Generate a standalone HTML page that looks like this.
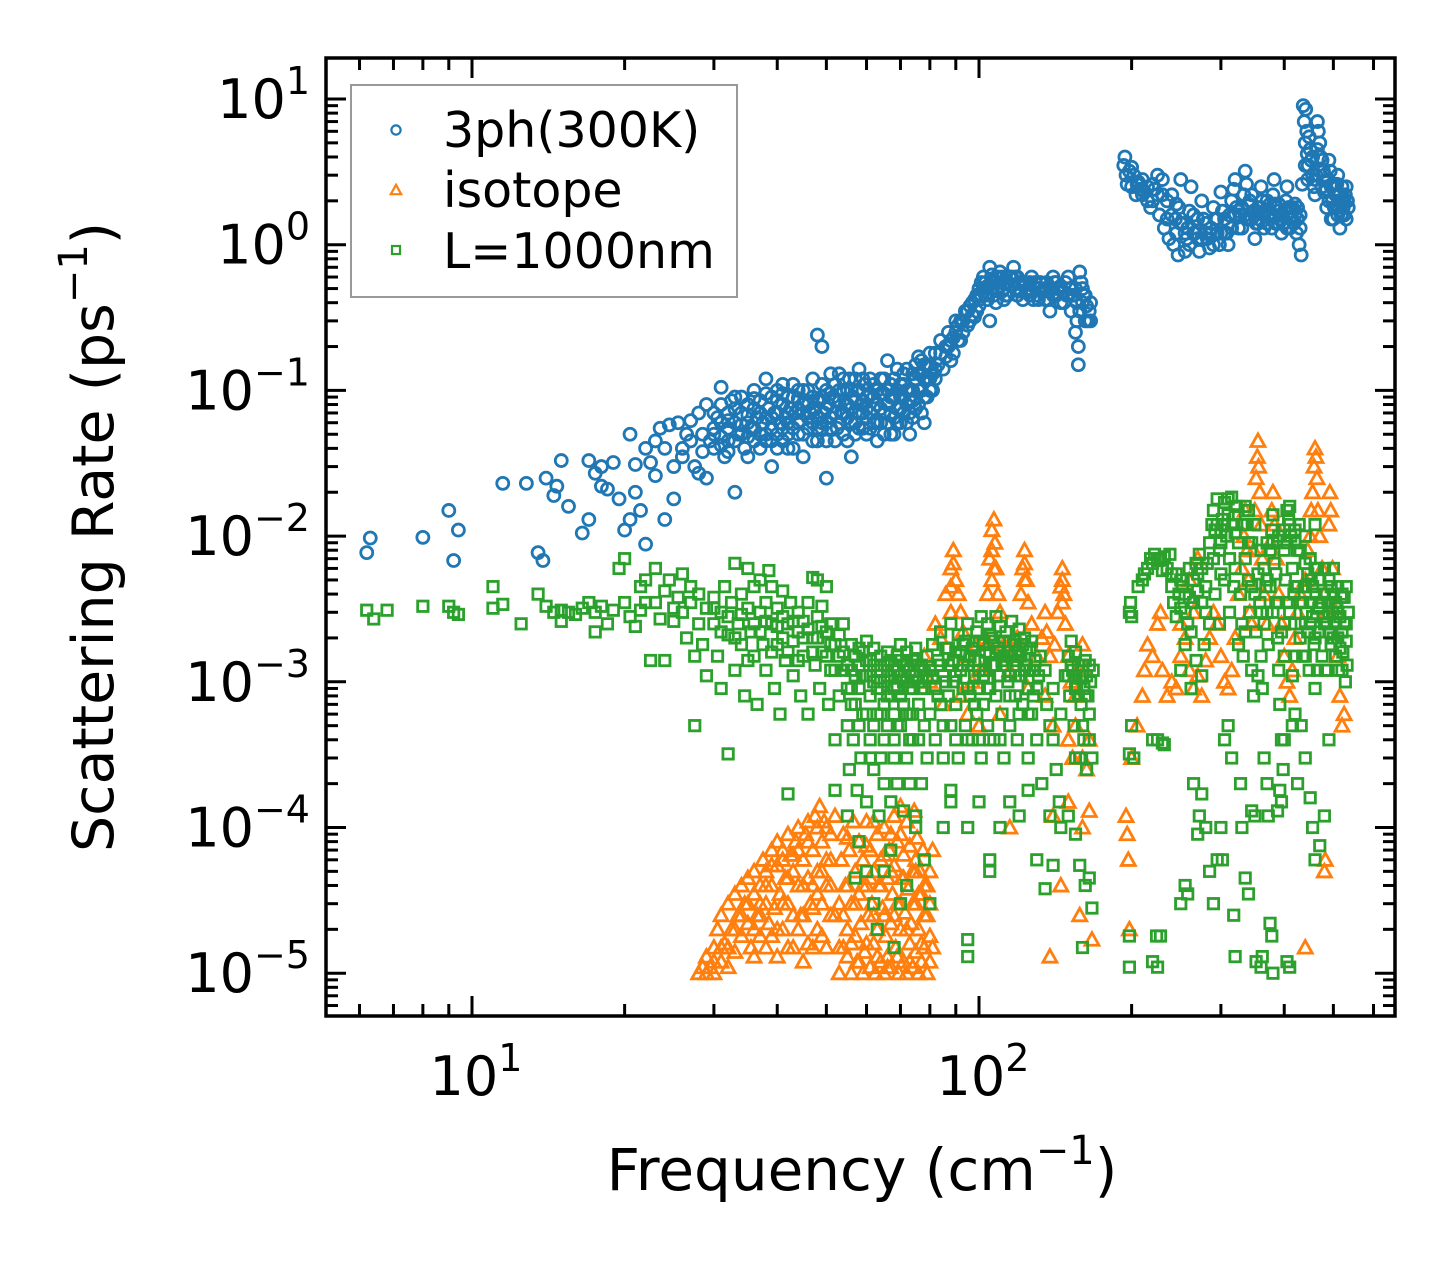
<!DOCTYPE html>
<html><head><meta charset="utf-8"><style>
html,body{margin:0;padding:0;background:#fff;}
svg{display:block;font-family:"DejaVu Sans","Liberation Sans",sans-serif;}
</style></head><body>
<svg id="chart" width="1455" height="1265" viewBox="0 0 1455 1265" xmlns="http://www.w3.org/2000/svg">
<rect width="1455" height="1265" fill="#fff"/>
<g id="marks"></g>
<g id="axes"></g>
</svg>
<script>
// ---- data (frequency cm^-1, rate ps^-1) ----
const xTickValues = [10, 100];
const xTickLabels = ["10", "10"];
const xTickExps = ["1", "2"];
const yTickValues = [10, 1, 0.1, 0.01, 0.001, 0.0001, 0.00001];
const yTickExps = ["1", "0", "\u22121", "\u22122", "\u22123", "\u22124", "\u22125"];
const legendLabels = ["3ph(300K)", "isotope", "L=1000nm"];

const blueData = [
[6.2,0.0077],[6.3,0.0097],[8,0.0098],[9,0.015],[9.2,0.0068],[9.4,0.011],[11.5,0.023],[12.8,0.023],[13.5,0.0077],[13.8,0.0068],[14,0.025],[14.5,0.019],[14.7,0.022],[15,0.033],[15.5,0.016],[16.5,0.0105],[17,0.013],[17,0.033],[17.5,0.027],[18,0.022],[18,0.03],[18.5,0.021],[19,0.032],[19.5,0.018],[20,0.011],[20.5,0.013],[20.5,0.05],[21,0.031],[21,0.02],[21.5,0.015],[22,0.0088],[22,0.04],[22.5,0.032],[23,0.045],[23,0.026],[23.5,0.055],[24,0.04],[24,0.013],[24.5,0.058],[25,0.03],[25,0.018],[25.5,0.06],[26,0.04],[26,0.035],[26.5,0.05],[27,0.062],[27,0.045],[27.5,0.03],[28,0.027],[28,0.07],[28.5,0.05],[28.5,0.038],[29,0.08],[29,0.025],[29.5,0.045],[30,0.055],[30,0.04],[30.5,0.065],[31,0.06],[31,0.105],[31,0.048],[31.5,0.035],[32,0.07],[32,0.045],[32,0.055],[32.5,0.085],[33,0.02],[33,0.09],[33,0.06],[33.5,0.05],[34,0.05],[34,0.07],[34.5,0.04],[35,0.06],[35,0.035],[35,0.08],[35.5,0.055],[36,0.075],[36,0.1],[36,0.045],[36.5,0.065],[37,0.05],[37,0.085],[37.5,0.06],[38,0.12],[38,0.065],[38,0.045],[38.5,0.075],[39,0.03],[39,0.09],[39,0.055],[39.5,0.07],[40,0.07],[40,0.05],[40,0.1],[40.5,0.06],[41,0.11],[41,0.08],[41,0.045],[41.5,0.065],[42,0.06],[42,0.04],[42,0.09],[42.5,0.075],[43,0.09],[43,0.055],[43.5,0.07],[44,0.075],[44,0.05],[44,0.1],[44.5,0.062],[45,0.1],[45,0.035],[45,0.07],[45.5,0.085],[46,0.08],[46,0.055],[46.5,0.07],[47,0.06],[47,0.12],[47,0.09],[47.5,0.075],[48,0.24],[48,0.045],[48,0.065],[48.5,0.085],[49,0.09],[49,0.055],[49,0.2],[49.5,0.07],[50,0.06],[50,0.025],[50,0.1],[50.5,0.08],[51,0.13],[51,0.065],[51.5,0.09],[52,0.07],[52,0.11],[52.5,0.055],[53,0.085],[53,0.13],[53.5,0.07],[54,0.05],[54,0.1],[54.5,0.08],[55,0.1],[55,0.065],[55.5,0.12],[56,0.035],[56,0.075],[56.5,0.09],[57,0.12],[57,0.06],[57.5,0.1],[58,0.07],[58,0.14],[58.5,0.08],[59,0.085],[59,0.055],[59.5,0.11],[60,0.05],[60,0.09],[61,0.07],[61,0.12],[62,0.09],[62,0.06],[63,0.06],[63,0.1],[64,0.12],[64,0.075],[65,0.07],[65,0.095],[66,0.16],[66,0.08],[67,0.05],[67,0.11],[68,0.09],[68,0.065],[69,0.06],[69,0.1],[70,0.11],[70,0.075],[71,0.09],[71,0.13],[72,0.08],[72,0.06],[73,0.05],[73,0.1],[74,0.13],[74,0.085],[75,0.09],[75,0.15],[76,0.17],[76,0.1],[77,0.1],[77,0.13],[78,0.06],[78,0.15],[79,0.12],[80,0.15],[80,0.1],[81,0.13],[82,0.12],[82,0.18],[83,0.15],[84,0.18],[84,0.22],[85,0.14],[86,0.2],[87,0.2],[87,0.25],[88,0.16],[89,0.23],[90,0.25],[90,0.3],[91,0.28],[92,0.22],[93,0.3],[94,0.35],[95,0.28],[96,0.38],[97,0.4],[98,0.32],[99,0.45],[100,0.5],[100,0.38],[101,0.55],[102,0.6],[103,0.45],[104,0.52],[105,0.7],[105,0.3],[106,0.62],[107,0.55],[108,0.4],[109,0.6],[110,0.65],[111,0.48],[112,0.5],[113,0.45],[114,0.55],[115,0.6],[116,0.52],[117,0.7],[118,0.5],[119,0.6],[120,0.55],[121,0.48],[122,0.42],[123,0.55],[125,0.5],[126,0.45],[127,0.6],[128,0.52],[130,0.45],[131,0.5],[132,0.55],[134,0.48],[135,0.5],[137,0.42],[138,0.35],[139,0.5],[140,0.6],[141,0.55],[142,0.45],[144,0.5],[145,0.4],[146,0.48],[148,0.55],[149,0.45],[150,0.6],[151,0.5],[152,0.35],[153,0.45],[155,0.25],[155,0.5],[156,0.3],[157,0.15],[157,0.2],[158,0.65],[159,0.55],[160,0.4],[161,0.45],[162,0.3],[163,0.38],[165,0.35],[166,0.4],
[193,3.5],[194,4],[195,3],[196,2.6],[198,3.2],[200,2.5],[202,3],[204,2.2],[206,2.7],[208,2.4],[210,2.8],[212,2.3],[215,2.5],[218,1.8],[220,2],[222,2.4],[225,3],[227,1.6],[230,2.8],[232,1.3],[235,1.5],[237,1.1],[240,2.2],[242,1.0],[244,1.5],[245,1.2],[247,0.85],[248,1.8],[250,2.8],[252,1.4],[255,0.9],[257,1.1],[258,1.3],[260,1.7],[262,2.5],[265,1.6],[267,1.2],[270,1.1],[272,0.9],[275,2.0],[277,1.5],[280,1.4],[282,1.1],[285,0.95],[287,1.3],[290,1.8],[292,1.5],[295,1.2],[298,1.0],[300,2.3],[302,1.7],[305,1.5],[308,1.2],[310,1.0],[312,1.6],[315,2.0],[318,2.4],[320,2.8],[322,1.8],[325,1.3],[327,1.6],[330,1.8],[333,2.2],[335,3.2],[337,2.6],[340,1.5],[342,2.0],[345,2.2],[348,1.7],[350,1.1],[352,1.4],[355,1.8],[357,1.5],[360,2.5],[362,2.0],[365,1.3],[368,1.7],[370,2.0],[372,1.6],[375,1.6],[378,1.3],[380,2.2],[382,2.8],[384,1.9],[385,1.4],[388,1.7],[390,1.9],[392,1.5],[395,1.2],[398,1.4],[400,1.7],[403,2.0],[405,2.5],[408,1.8],[410,1.3],[412,1.5],[415,1.8],[418,1.4],[420,1.6],[423,1.2],[425,1.5],[428,1.0],[430,1.3],[432,0.85],[434,2.6],[436,9],[438,7],[440,5],[441,8.5],[443,6],[444,4.2],[446,3.5],[448,5.5],[450,4.5],[452,3.8],[455,3],[458,2.5],[460,2.2],[462,3],[465,7],[467,6],[470,5],[472,4],[475,2.5],[478,3.2],[480,3],[482,2.4],[485,1.8],[488,2.8],[490,3.8],[493,3.2],[495,2.5],[498,2.0],[500,1.5],[502,1.8],[505,2.2],[508,2.6],[510,3.0],[512,2.0],[515,1.3],[518,1.6],[520,2.0],[523,1.8],[525,1.6],[528,2.2],[530,2.5],[533,2.0],[535,1.8]
];
const blueDense = [
[30,0.05],[30,0.07],[31,0.042],[31,0.08],[32,0.062],[32,0.038],[33,0.075],[33,0.045],[34,0.058],[34,0.09],[35,0.048],[35,0.068],[36,0.055],[36,0.088],[37,0.04],[37,0.07],[38,0.05],[38,0.095],[39,0.065],[39,0.045],[40,0.085],[40,0.04],[41,0.055],[41,0.095],[42,0.07],[42,0.05],[43,0.04],[43,0.11],[44,0.06],[44,0.088],[45,0.05],[45,0.08],[46,0.065],[46,0.1],[47,0.045],[47,0.075],[48,0.085],[48,0.055],[49,0.06],[49,0.11],[50,0.045],[50,0.075],[51,0.055],[51,0.095],[52,0.045],[52,0.085],[53,0.06],[53,0.1],[54,0.07],[54,0.12],[55,0.045],[55,0.08],[56,0.06],[56,0.1],[57,0.05],[57,0.085],[58,0.055],[58,0.1],[59,0.07],[59,0.12],[60,0.065],[60,0.075],[61,0.055],[61,0.095],[62,0.075],[62,0.11],[63,0.045],[63,0.08],[64,0.06],[64,0.095],[65,0.05],[65,0.12],[66,0.06],[66,0.1],[67,0.07],[67,0.09],[68,0.05],[68,0.12],[69,0.075],[69,0.14],[70,0.06],[70,0.09],[71,0.07],[71,0.11],[72,0.1],[72,0.14],[73,0.07],[73,0.085],[74,0.065],[74,0.1],[75,0.075],[75,0.12],[76,0.08],[76,0.13],[77,0.07],[77,0.16],[78,0.09],[78,0.12],[79,0.09],[79,0.15],[80,0.12],[80,0.18],[81,0.1],[82,0.14],
[86,0.17],[88,0.22],[89,0.18],[91,0.22],[92,0.3],[93,0.25],[95,0.35],[96,0.3],[97,0.33],[98,0.42],[99,0.35],[100,0.42],[101,0.45],[102,0.5],[103,0.55],[104,0.42],[106,0.5],[107,0.45],[108,0.6],[109,0.5],[110,0.55],[111,0.6],[112,0.42],[113,0.55],[114,0.45],[116,0.6],[118,0.6],[119,0.45],[120,0.48],[122,0.55],[124,0.48],[126,0.55],[128,0.42],[129,0.55],[131,0.42],[133,0.48],[135,0.42],[136,0.55],[138,0.48],[140,0.45],[142,0.55],[143,0.5],[145,0.5],[147,0.4],[150,0.45],[152,0.5],[154,0.45],[156,0.4],[158,0.35],[160,0.5],[162,0.45],[164,0.3],[166,0.3],
[200,3.4],[205,2.6],[210,2.2],[215,2.0],[220,2.6],[225,2.2],[230,2.2],[235,2.0],[240,1.6],[245,1.9],[250,1.4],[255,1.2],[260,1.0],[265,1.2],[270,1.5],[275,1.1],[280,1.2],[285,1.2],[290,1.0],[295,1.5],[300,1.2],[305,1.2],[310,1.4],[315,1.3],[320,1.6],[325,1.7],[330,1.3],[335,1.6],[340,1.9],[345,1.5],[350,1.6],[355,1.4],[360,1.8],[365,1.6],[370,1.4],[375,1.9],[380,1.6],[385,1.8],[390,1.4],[395,1.6],[400,1.4],[405,1.3],[410,1.8],[415,1.5],[420,1.9],[425,1.8],[430,1.6],[440,3.5],[445,2.8],[455,4],[460,2.8],[465,4.5],[470,3.2],[475,3.8],[480,2.3],[485,2.4],[490,2],[495,1.5],[500,2.6],[505,1.8],[510,1.6],[515,2.2],[520,2.5],[525,2],[530,1.5]
];

const orangeData = [
[28,1e-5],[28.5,1.1e-5],[29,1e-5],[29,1.3e-5],[29.5,1.1e-5],[30,1.5e-5],[30,1e-5],[30.5,2e-5],[31,1.2e-5],[31,2.5e-5],[31.5,1.6e-5],[32,3e-5],[32,1.1e-5],[32.5,2e-5],[33,3.5e-5],[33,1.4e-5],[33.5,2.5e-5],[34,4e-5],[34,1.8e-5],[34.5,3e-5],[35,2.2e-5],[35,4.5e-5],[35.5,1.5e-5],[36,3.5e-5],[36,5e-5],[36.5,2.5e-5],[37,4e-5],[37,1.8e-5],[37.5,6e-5],[38,3e-5],[38,5e-5],[38.5,2.2e-5],[39,7e-5],[39,4e-5],[39.5,2.8e-5],[40,5.5e-5],[40,8e-5],[40.5,3.5e-5],[41,6e-5],[41,2e-5],[41.5,4.5e-5],[42,9e-5],[42,3e-5],[42.5,6.5e-5],[43,5e-5],[43,1.5e-5],[43.5,8e-5],[44,4e-5],[44,1e-4],[44.5,2.5e-5],[45,6e-5],[45,1.2e-5],[45.5,9e-5],[46,4.5e-5],[46,1.1e-4],[46.5,3e-5],[47,7e-5],[47,1.5e-5],[47.5,1.2e-4],[48,5e-5],[48,2e-5],[48.5,1.4e-4],[49,8e-5],[49,3e-5],[49.5,1.1e-4],[50,6e-5],[50,1.5e-5],[51,9e-5],[51,4e-5],[52,1.2e-4],[52,2.5e-5],
[53,1e-5],[53,3e-5],[53.5,6e-5],[54,1.5e-5],[54,9e-5],[54.5,4e-5],[55,2e-5],[55,1.3e-5],[55.5,7e-5],[56,1e-5],[56,3e-5],[56.5,1.1e-4],[57,5e-5],[57,1.8e-5],[57.5,1.2e-5],[58,8e-5],[58,3.5e-5],[58.5,2.2e-5],[59,1e-5],[59,6e-5],[59.5,1.4e-5],[60,4e-5],[60,1.1e-4],[60.5,2.5e-5],[61,1.1e-5],[61,7e-5],[61.5,3e-5],[62,1.6e-5],[62,5e-5],[62.5,1e-5],[63,9e-5],[63,2e-5],[63.5,4e-5],[64,1.2e-5],[64,6e-5],[64.5,2.8e-5],[65,1e-5],[65,1e-4],[65.5,1.8e-5],[66,4.5e-5],[66,1.3e-5],[66.5,7e-5],[67,2.2e-5],[67,1.1e-5],[67.5,3.5e-5],[68,1.2e-4],[68,5.5e-5],[68.5,1.5e-5],[69,3e-5],[69,8e-5],[69.5,1e-5],[70,2e-5],[70,1.4e-4],[70.5,4.5e-5],[71,1.2e-5],[71,6.5e-5],[71.5,2.6e-5],[72,1e-5],[72,1.1e-4],[72.5,3.8e-5],[73,1.6e-5],[73,7.5e-5],[73.5,2.2e-5],[74,1.1e-5],[74,5e-5],[74.5,1.3e-4],[75,3e-5],[75,1.4e-5],[75.5,8.5e-5],[76,2e-5],[76,1e-5],[76.5,5e-5],[77,1.2e-5],[77,3.5e-5],[77.5,7e-5],[78,1.5e-5],[78,2.5e-5],[79,1e-5],[79,4e-5],[80,1.8e-5],[80,1.2e-5],[81,7e-5],
[78,0.0015],[80,0.001],[82,0.0025],[84,0.002],[86,0.004],[88,0.006],[88,0.003],[88,0.0045],[89,0.008],[89,0.0065],[90,0.005],[91,0.004],[92,0.003],[93,0.0022],[95,0.0015],[97,0.001],[99,0.0018],[101,0.0012],[103,0.002],[104,0.004],[105,0.007],[106,0.011],[106,0.008],[106,0.005],[107,0.013],[107,0.006],[107.5,0.009],[108,0.006],[109,0.004],[110,0.003],[112,0.0018],[115,0.0012],[117,0.0015],[119,0.002],[121,0.004],[122,0.006],[123,0.008],[123,0.005],[123,0.0065],[124,0.005],[125,0.0035],[127,0.0025],[130,0.0015],[133,0.002],[135,0.003],[136,0.0022],[138,0.0015],[141,0.0018],[143,0.003],[145,0.0045],[146,0.006],[146,0.0035],[146,0.005],[147,0.004],[148,0.0025],[150,0.0015],[152,0.001],[155,0.0008],[157,0.0012],[160,0.0018],[162,0.0012],[150,0.0004],[153,0.0003],[155,0.0005],[160,0.0003],[163,0.00025],[165,0.0004],[140,0.0005],[135,0.0008],[125,0.0009],[110,0.0006],[100,0.0005],[95,0.0006],[92,0.0008],[85,0.0007],[140,0.00012],[150,0.00015],[160,0.0001],[165,0.00013],[158,2.5e-5],[167,1.7e-5],[138,1.3e-5],[145,4e-5],[115,1e-4],[80,5e-5],
[195,0.00012],[196,9e-5],[197,6e-5],[198,2e-5],[200,0.0003],[205,0.0005],[210,0.0008],[212,0.0012],[215,0.0018],[220,0.0015],[225,0.0025],[228,0.003],[230,0.0012],[235,0.0008],[240,0.001],[245,0.0009],[250,0.0015],[250,0.0025],[255,0.002],[260,0.0012],[260,0.005],[265,0.0009],[265,0.003],[270,0.0011],[270,0.007],[275,0.0008],[280,0.0014],[285,0.002],[290,0.003],[295,0.0025],[300,0.0015],[305,0.001],[310,0.0009],[315,0.0012],[320,0.002],[325,0.004],[330,0.006],[333,0.01],[335,0.015],[338,0.008],[340,0.005],[342,0.003],[345,0.0025],[348,0.008],[350,0.015],[352,0.025],[354,0.035],[355,0.045],[356,0.03],[358,0.02],[360,0.012],[362,0.007],[365,0.004],[370,0.0025],[375,0.009],[378,0.015],[380,0.02],[383,0.012],[386,0.007],[390,0.004],[395,0.0025],[400,0.0015],[405,0.001],[410,0.0008],[415,0.0012],[420,0.002],[425,0.003],[430,0.004],[440,0.005],[445,0.008],[450,0.01],[452,0.015],[455,0.02],[458,0.03],[460,0.04],[462,0.035],[464,0.025],[466,0.015],[470,0.01],[475,0.006],[480,0.004],[485,0.003],[490,0.012],[492,0.02],[494,0.015],[498,0.006],[505,0.003],[510,0.0015],[515,0.0008],[520,0.0005],[525,0.0006],[480,5e-5],[482,6e-5],[440,1.5e-5]
];
const orangeDense = [
[30,1.2e-5],[31,1.5e-5],[32,1.5e-5],[33,2e-5],[34,2.5e-5],[35,3e-5],[36,1.3e-5],[36,2e-5],[37,2.5e-5],[37,3e-5],[38,1.5e-5],[38,4e-5],[39,1.8e-5],[39,5.5e-5],[40,2e-5],[40,1.3e-5],[41,3e-5],[41,7e-5],[42,4.5e-5],[42,1.5e-5],[43,2.5e-5],[43,6.5e-5],[44,2e-5],[44,7e-5],[45,4e-5],[45,2.5e-5],[46,8e-5],[46,1.6e-5],[47,4e-5],[47,2.8e-5],[48,3.5e-5],[48,1e-4],[49,5e-5],[49,1.8e-5],[50,4e-5],[50,1e-4],[51,2.5e-5],[51,6e-5],
[53,1.5e-5],[54,2.5e-5],[55,4e-5],[56,1.6e-5],[57,3e-5],[58,1.2e-5],[59,4e-5],[60,1.6e-5],[61,4.5e-5],[62,2.5e-5],[63,1.3e-5],[64,4e-5],[65,2.5e-5],[66,1.1e-5],[67,5e-5],[68,2.5e-5],[69,1.3e-5],[70,3e-5],[71,4.5e-5],[72,2e-5],[73,1.2e-5],[74,3e-5],[75,5e-5],[76,3.5e-5],[77,1.6e-5],[78,4e-5],[79,2.5e-5],[80,3e-5],[81,1.5e-5],[55,8.5e-5],[60,7.5e-5],[65,6.5e-5],[70,9e-5],[75,6e-5],[62,1.1e-4],[67,9e-5]
];

const greenData = [
[6.2,0.0031],[6.4,0.0027],[6.8,0.0031],[8,0.0033],[9,0.0033],[9.2,0.003],[9.4,0.0029],[11,0.0045],[11,0.0032],[11.5,0.0034],[12.5,0.0025],[13.5,0.004],[14,0.0033],[14.5,0.003],[15,0.0031],[15,0.0026],[15.5,0.003],[16,0.0029],[16.5,0.0032],[17,0.0035],[17.5,0.003],[17.5,0.0022],[18,0.0033],[18.5,0.0025],[19,0.0031],[19.5,0.006],[20,0.0035],[20,0.007],[20.5,0.0028],[21,0.0024],[21.5,0.0045],[21.5,0.0031],[22,0.0035],[22,0.005],[22.5,0.0014],[23,0.006],[23,0.0035],[23.5,0.0027],[24,0.0042],[24,0.0014],[24.5,0.005],[25,0.0032],[25,0.0026],[25.5,0.0038],[26,0.0055],[26,0.003],[26.5,0.002],[27,0.0045],[27,0.0035],[27.5,0.0015],[27.5,0.0005],[28,0.0025],[28,0.004],[28.5,0.0018],[29,0.0032],[29,0.0011],[30,0.0038],[30,0.0025],[30.5,0.0015],[31,0.003],[31,0.0009],[31.5,0.0045],[32,0.0021],[32,0.00032],[32.5,0.0035],[33,0.0065],[33,0.0012],[33.5,0.0025],[34,0.004],[34,0.0018],[34.5,0.0008],[35,0.0032],[35,0.006],[35.5,0.0022],[36,0.0015],[36,0.0045],[36.5,0.0007],[37,0.003],[37,0.005],[37.5,0.0018],[38,0.0035],[38,0.0012],[38.5,0.0058],[39,0.0025],[39,0.0045],[39.5,0.0009],[40,0.0032],[40,0.0018],[40.5,0.0006],[41,0.0028],[41,0.0042],[41.5,0.0014],[42,0.00017],[42,0.0025],[42.5,0.0035],[43,0.0019],[43,0.0011],[44,0.003],[44,0.0022],[44.5,0.0008],[45,0.0026],[45,0.0015],[46,0.0035],[46,0.0006],[47,0.0052],[47,0.002],[47.5,0.0013],[48,0.005],[48,0.0028],[48.5,0.0009],[49,0.0033],[49,0.0016],[50,0.0045],[50,0.0022],[50.5,0.0007],[51,0.0025],[51,0.0012],[52,0.0018],[52,0.0004],[53,0.0015],[53,0.0008],[54,0.0012],[54,0.0025],[55,0.0009],[55,0.0005],[55.5,0.00025],[56,0.0018],[56,0.0012],[56.5,0.0004],[57,0.0015],[57,0.0007],[57.5,0.00018],[58,0.0013],[58,0.0009],[58.5,0.0003],[59,0.0016],[59,0.0006],[60,0.0011],[60,0.0019],[60,0.00015],[61,0.0014],[61,0.0008],[61,0.0004],[62,0.0017],[62,0.001],[62,0.00025],[63,0.0012],[63,0.0006],[63.5,0.00012],[64,0.0015],[64,0.0009],[64,0.0003],[65,0.0013],[65,0.0007],[65,0.0002],[66,0.0011],[66,0.0016],[66,0.0005],[67,0.0014],[67,0.0008],[67,0.00015],[68,0.0012],[68,0.0006],[68,0.0003],[69,0.0015],[69,0.0009],[69,0.0002],[70,0.0018],[70,0.0011],[70,0.0005],[71,0.0013],[71,0.0007],[71,0.00013],[72,0.0016],[72,0.001],[72,0.0003],[73,0.0012],[73,0.0006],[73,0.0002],[74,0.0014],[74,0.0009],[74,0.0004],[75,0.0011],[75,0.0017],[75,0.00012],[76,0.0013],[76,0.0007],[77,0.0009],[77,0.0002],[78,0.0012],[78,0.0005],[79,0.0015],[79,0.0003],
[52,0.00018],[55,0.00012],[58,8e-5],[60,5e-5],[62,3e-5],[63,2e-5],[65,5e-5],[68,1.5e-5],[70,3e-5],[72,4e-5],[75,1e-4],[78,6e-5],[80,3e-5],[85,0.0001],[88,0.00015],[57,4.5e-5],[67,7e-5],
[80,0.0012],[80,0.0006],[81,0.0018],[82,0.0009],[82,0.0004],[83,0.0014],[84,0.0022],[84,0.0007],[85,0.0011],[85,0.0003],[86,0.0017],[87,0.0008],[87,0.0013],[88,0.0025],[88,0.0005],[89,0.001],[90,0.0016],[90,0.0007],[91,0.0021],[91,0.0003],[92,0.0012],[93,0.0009],[93,0.0018],[94,0.0005],[95,0.0025],[95,0.0013],[96,0.0008],[97,0.0017],[97,0.0004],[98,0.0011],[99,0.0022],[99,0.0006],[100,0.0014],[100,0.0009],[101,0.0028],[101,0.0003],[102,0.0018],[102,0.0007],[103,0.0012],[104,0.0025],[104,0.0005],[105,0.0016],[105,0.0009],[106,0.002],[107,0.0013],[107,0.0004],[108,0.0028],[108,0.0008],[109,0.0017],[110,0.0011],[110,0.0024],[111,0.0006],[112,0.0015],[112,0.0003],[113,0.0022],[114,0.001],[115,0.0019],[115,0.0005],[116,0.0026],[117,0.0013],[118,0.0008],[118,0.0018],[119,0.0004],[120,0.0023],[120,0.0011],[121,0.0015],[122,0.0007],[123,0.002],[124,0.0013],[125,0.0009],[125,0.0003],[126,0.0017],[127,0.0006],[128,0.0012],[130,0.0009],[130,0.0004],[132,0.0015],[133,0.0002],[135,0.0012],[136,0.0007],[138,0.0005],[140,0.0004],[140,0.0009],[142,0.00025],[144,0.00015],[145,0.0006],[148,0.0011],[150,0.0015],[151,0.0008],[152,0.0019],[153,0.0012],[154,0.0005],[155,0.0016],[156,0.0009],[157,0.0013],[158,0.0003],[159,0.0007],[160,0.0011],[161,0.0004],[162,0.0014],[163,0.00025],[164,0.0008],[165,0.0006],[166,0.001],[167,0.0003],[168,0.0012],
[100,0.00015],[105,6e-5],[105,5e-5],[110,0.0001],[115,0.00015],[120,0.00012],[95,0.0001],[95,1.7e-5],[95,1.3e-5],[125,0.00018],[130,6e-5],[135,3.8e-5],[140,5.5e-5],[145,0.0001],[150,0.00012],[155,9e-5],[158,5.5e-5],[160,1.5e-5],[162,4e-5],[165,4.5e-5],[167,2.8e-5],[138,0.00012],[88,0.00018],
[198,0.003],[199,0.0035],[200,0.0028],[200,0.0005],[202,0.0003],[198,0.00032],[198,1.1e-5],[198,1.8e-5],[206,0.0045],[210,0.005],[212,0.0055],[215,0.006],[218,0.007],[220,0.0065],[222,0.0075],[225,0.0068],[228,0.007],[230,0.0058],[232,0.0072],[235,0.006],[238,0.0075],[240,0.0055],[242,0.0035],[245,0.0028],[248,0.004],[250,0.0032],[252,0.0045],[255,0.003],[258,0.0025],[260,0.0038],[262,0.0022],[265,0.005],[268,0.0065],[270,0.0042],[272,0.0075],[275,0.0035],[278,0.0018],[280,0.0045],[282,0.0065],[285,0.009],[288,0.012],[290,0.015],[292,0.011],[295,0.018],[298,0.008],[300,0.0055],[302,0.013],[305,0.017],[308,0.01],[310,0.014],[312,0.007],[315,0.0185],[318,0.012],[320,0.006],[322,0.016],[325,0.009],[328,0.004],[330,0.0025],[332,0.0015],[335,0.007],[338,0.012],[340,0.005],[342,0.003],[345,0.0012],[348,0.0008],[350,0.004],[352,0.0022],[355,0.0055],[358,0.0035],[360,0.0015],[362,0.0009],[365,0.006],[368,0.0045],[370,0.003],[372,0.0018],[375,0.008],[378,0.011],[380,0.014],[382,0.0065],[385,0.0035],[388,0.002],[390,0.0012],[392,0.0007],[395,0.0004],[398,0.00025],[400,0.0015],[402,0.005],[405,0.009],[408,0.013],[410,0.016],[412,0.01],[415,0.006],[418,0.004],[420,0.0025],[422,0.0015],[425,0.008],[428,0.012],[430,0.0035],[432,0.0025],[435,0.0015],[438,0.0045],[440,0.0065],[442,0.003],[445,0.0022],[448,0.0012],[450,0.0035],[452,0.005],[455,0.0028],[458,0.0018],[460,0.0009],[462,0.004],[465,0.006],[468,0.0032],[470,0.0022],[475,0.0015],[478,0.0028],[480,0.004],[482,0.0012],[485,0.0025],[488,0.0035],[490,0.0022],[495,0.0018],[498,0.003],[500,0.004],[502,0.0025],[505,0.0015],[508,0.0032],[510,0.002],[512,0.0012],[515,0.0028],[518,0.0038],[520,0.0022],[522,0.0016],[525,0.0025],[528,0.001],[530,0.0019],[532,0.0013],[535,0.003],
[250,0.0012],[255,0.0018],[262,0.0009],[268,0.0014],[275,0.0011],[285,0.0025],[292,0.004],[298,0.0025],[305,0.005],[312,0.003],[318,0.0045],[325,0.0018],[335,0.0022],[345,0.0045],[355,0.0011],[365,0.0025],[375,0.0045],[385,0.0055],[395,0.0022],[405,0.0035],[415,0.0011],[425,0.0045],[435,0.0035],[445,0.0055],[455,0.0045],[465,0.0012],[475,0.0035],[485,0.0012],[495,0.0045],[505,0.0035],[515,0.0017],[525,0.0038],[300,0.011],[320,0.0105],[340,0.009],[400,0.008],[420,0.011],[440,0.01],[460,0.012],
[220,0.0004],[225,0.0004],[230,0.00038],[232,0.00037],[220,1.2e-5],[224,1.8e-5],[228,1.8e-5],[225,1.1e-5],[250,3e-5],[255,4e-5],[258,3.5e-5],[265,0.0002],[270,9e-5],[272,0.00012],[275,0.00017],[280,0.0001],[285,5e-5],[290,3e-5],[295,6e-5],[300,0.0001],[302,6e-5],[305,0.0004],[310,0.0005],[315,0.0003],[318,2.5e-5],[320,1.3e-5],[328,0.0002],[330,0.0001],[335,4.5e-5],[340,3.5e-5],[345,0.00013],[350,0.00012],[352,1.2e-5],[360,1.1e-5],[362,1.3e-5],[365,0.0003],[370,0.0002],[372,0.00012],[375,2.2e-5],[378,1.8e-5],[380,1e-5],[388,0.00013],[392,0.00018],[395,0.00015],[400,0.0004],[405,1.2e-5],[410,1.1e-5],[415,0.0005],[420,0.0006],[425,0.0002],[432,0.0005],[440,0.0003],[450,0.00016],[455,0.0001],[460,6e-5],[470,7.5e-5],[480,0.00012],[490,0.0004]
];
const greenDense = [
[30,0.0032],[31,0.0022],[32,0.0028],[33,0.002],[34,0.0029],[35,0.0014],[36,0.0025],[37,0.0022],[38,0.0026],[39,0.0016],[40,0.0024],[41,0.002],[42,0.0016],[43,0.0026],[44,0.0014],[45,0.002],[46,0.0023],[47,0.0016],[48,0.002],[49,0.0024],[50,0.0015],[51,0.0018],[52,0.0012],[53,0.0021],[54,0.0016],[55,0.0013],[56,0.0009],[57,0.0011],[58,0.0017],[59,0.0011],[60,0.0014],[61,0.0011],[62,0.0013],[63,0.0009],[64,0.0012],[65,0.001],[66,0.0013],[67,0.0011],[68,0.0009],[69,0.0012],[70,0.0014],[71,0.001],[72,0.0013],[73,0.0009],[74,0.0011],[75,0.0014],[76,0.001],[77,0.0013],[78,0.0009],[79,0.0011],[60,0.0006],[62,0.0005],[64,0.0006],[66,0.0008],[68,0.0004],[70,0.0008],[72,0.0006],[74,0.0006],[76,0.0004],[58,0.0005],[56,0.0007],[61,0.0003],[65,0.0004],[69,0.0005],[73,0.0004],
[81,0.0011],[83,0.0008],[84,0.0013],[86,0.001],[87,0.0017],[89,0.0014],[90,0.0011],[92,0.0016],[93,0.0013],[94,0.0019],[95,0.0009],[96,0.0015],[98,0.0014],[98,0.0007],[100,0.0019],[100,0.0012],[102,0.0011],[103,0.0016],[104,0.0009],[105,0.0021],[106,0.0013],[107,0.0019],[108,0.0013],[109,0.0011],[110,0.0016],[111,0.0014],[112,0.0019],[113,0.0013],[114,0.0016],[115,0.0011],[116,0.0015],[117,0.0019],[118,0.0011],[119,0.0014],[120,0.0016],[121,0.0011],[122,0.0018],[123,0.0012],[124,0.0017],[126,0.0012],[127,0.0019],[128,0.0008],[129,0.0014],[131,0.0011],[150,0.0011],[152,0.0013],[154,0.0011],[155,0.0009],[157,0.0008],[158,0.0011],[160,0.0013],[161,0.0009],[162,0.0008],[163,0.0011],[165,0.0013],[100,0.0004],[105,0.0004],[110,0.0004],[115,0.0008],[120,0.0006],[125,0.0006],[95,0.0004],[90,0.0004],[85,0.0005],[155,0.0003],[160,0.0005],[165,0.0004],
[240,0.0045],[245,0.0055],[250,0.005],[255,0.004],[260,0.006],[265,0.0035],[270,0.0055],[275,0.006],[280,0.003],[290,0.007],[295,0.012],[300,0.009],[305,0.012],[310,0.018],[320,0.014],[330,0.012],[335,0.016],[340,0.015],[345,0.009],[350,0.012],[360,0.008],[370,0.009],[380,0.009],[390,0.01],[400,0.011],[405,0.015],[410,0.012],[420,0.009],[430,0.008],[440,0.0045],[450,0.007],[460,0.006],[470,0.005],[480,0.006],[490,0.005],[500,0.006],[510,0.0045],[520,0.004],[530,0.0045],[360,0.003],[370,0.005],[380,0.003],[390,0.0035],[400,0.0025],[410,0.003],[420,0.0045],[430,0.002],[440,0.0015],[450,0.0025],[460,0.002],[470,0.0035],[480,0.0025],[490,0.003],[500,0.002],[510,0.003],[520,0.0012],[530,0.0025]
];

// ---- axes ----
const NS = "http://www.w3.org/2000/svg";
const PL = 326, PR = 1395, PT = 58, PB = 1016;
function X(f){ return 472 + 507 * (Math.log10(f) - 1); }
function Y(v){ return 99 + 145.7 * (1 - Math.log10(v)); }
const marks = document.getElementById('marks');
const axes = document.getElementById('axes');
function mk(tag, attrs, parent){
  const e = document.createElementNS(NS, tag);
  for (const k in attrs) e.setAttribute(k, attrs[k]);
  parent.appendChild(e);
  return e;
}
function circ(cx, cy, parent){
  return mk('circle', {cx:cx, cy:cy, r:6, fill:'none', stroke:'#1f77b4', 'stroke-width':2.8}, parent);
}
function tri(cx, cy, parent){
  const s = 7;
  return mk('polygon', {points:`${cx},${cy-s} ${cx-s},${cy+s*0.8} ${cx+s},${cy+s*0.8}`, fill:'none', stroke:'#ff7f0e', 'stroke-width':2.8}, parent);
}
function sq(cx, cy, parent){
  return mk('rect', {x:cx-5.2, y:cy-5.2, width:10.4, height:10.4, fill:'none', stroke:'#2ca02c', 'stroke-width':2.8}, parent);
}
const gB = mk('g', {}, marks);


blueData.concat(blueDense).forEach(d => {
  const e = circ(X(d[0]), Y(d[1]), gB);
  
  
});
const gO = mk('g', {}, marks);


orangeData.concat(orangeDense).forEach(d => {
  const e = tri(X(d[0]), Y(d[1]), gO);
  
  
});
const gG = mk('g', {}, marks);


greenData.concat(greenDense).forEach(d => {
  const e = sq(X(d[0]), Y(d[1]), gG);
  
  
});

const frame = mk('rect', {x:PL, y:PT, width:PR-PL, height:PB-PT, fill:'none', stroke:'#000', 'stroke-width':3.5}, axes);



for (let d = 1; d <= 100; d *= 10){
  for (let m = 1; m <= 9; m++){
    const x = X(m * d);
    if (x < PL + 2 || x > PR - 2) continue;
    const len = m === 1 ? 20 : 12;
    const t1 = mk('line', {x1:x, x2:x, y1:PB, y2:PB-len, stroke:'#000', 'stroke-width':3}, axes);
    
    
    const t2 = mk('line', {x1:x, x2:x, y1:PT, y2:PT+len, stroke:'#000', 'stroke-width':3}, axes);
    
    
  }
}
xTickValues.forEach((v, i) => {
  const t = mk('text', {x:X(v)+4, y:1095, 'text-anchor':'middle', 'font-size':54, fill:'#000'}, axes);
  
  
  t.textContent = xTickLabels[i];
  const s = mk('tspan', {'font-size':38, dy:-24}, t);
  s.textContent = xTickExps[i];
});
for (let e = -6; e <= 1; e++){
  for (let m = 1; m <= 9; m++){
    const y = Y(m * Math.pow(10, e));
    if (y < PT + 2 || y > PB - 2) continue;
    const len = m === 1 ? 20 : 12;
    const t1 = mk('line', {x1:PL, x2:PL+len, y1:y, y2:y, stroke:'#000', 'stroke-width':3}, axes);
    
    
    const t2 = mk('line', {x1:PR, x2:PR-len, y1:y, y2:y, stroke:'#000', 'stroke-width':3}, axes);
    
    
  }
}
yTickValues.forEach((v, i) => {
  const t = mk('text', {x:310, y:Y(v)+19, 'text-anchor':'end', 'font-size':54, fill:'#000'}, axes);
  
  
  t.textContent = "10";
  const s = mk('tspan', {'font-size':38, dy:-24}, t);
  s.textContent = yTickExps[i];
});
</script>
<svg style="position:absolute;left:0;top:0" width="1455" height="1265" xmlns="http://www.w3.org/2000/svg" font-family="DejaVu Sans, Liberation Sans, sans-serif">
<text x="862" y="1190" text-anchor="middle" font-size="58">Frequency (cm<tspan font-size="40" dy="-26">−1</tspan><tspan dy="26">)</tspan></text>
<text transform="translate(113,537) rotate(-90)" text-anchor="middle" font-size="57">Scattering Rate (ps<tspan font-size="40" dy="-26">−1</tspan><tspan dy="26">)</tspan></text>
<g>
<rect x="351" y="85" width="386" height="212" fill="#fff" stroke="#999" stroke-width="2"/>
<circle cx="396" cy="130" r="4.6" fill="none" stroke="#1f77b4" stroke-width="2.2"/>
<polygon points="396,184.8 390.8,194.2 401.2,194.2" fill="none" stroke="#ff7f0e" stroke-width="2.2"/>
<rect x="392" y="246" width="8" height="8" fill="none" stroke="#2ca02c" stroke-width="2.2"/>
<text x="443" y="147" font-size="49">3ph(300K)</text>
<text x="443" y="207" font-size="49">isotope</text>
<text x="443" y="268" font-size="49">L=1000nm</text>
</g>
</svg>
</body></html>
